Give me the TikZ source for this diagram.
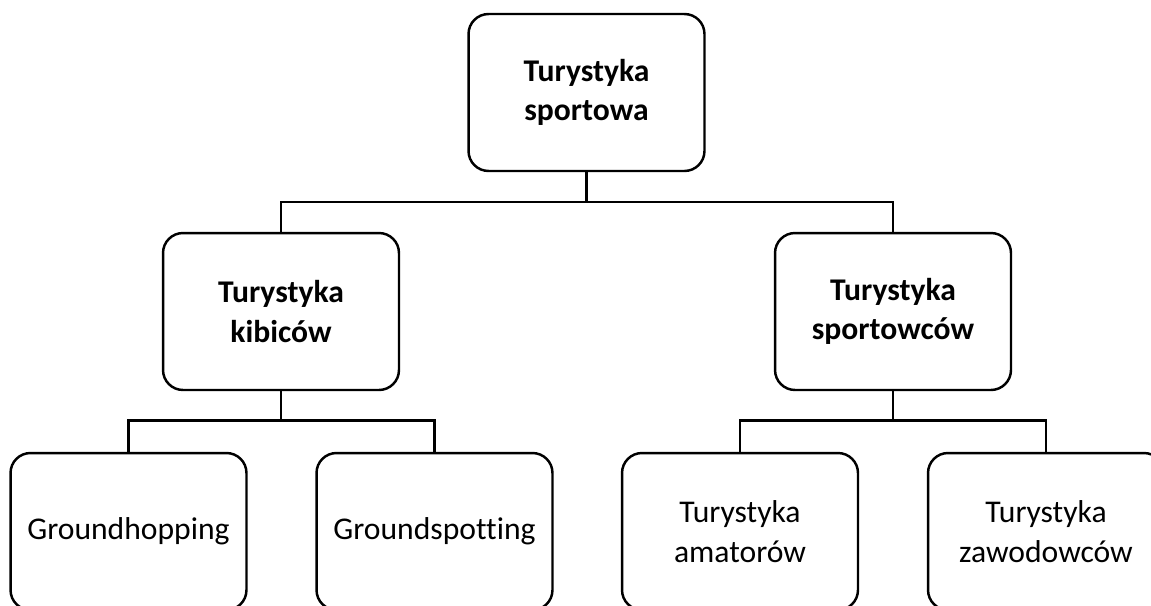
\documentclass[tikz,border=0pt]{standalone}
\usepackage{fontspec}
\setmainfont{Carlito}[Ligatures={NoCommon}]
\usepackage{tikz}
\usetikzlibrary{positioning,calc}

\begin{document}
\begin{tikzpicture}[
      x=0.02cm, y=-0.02cm,
      catbox/.style={rectangle, draw=black, line width=1.4pt, rounded corners=0.4cm,
                     minimum width=4.72cm, minimum height=3.14cm, align=center,
                     inner sep=0pt, font=\fontsize{18}{22.5}\selectfont},
      headbox/.style={catbox, font=\fontsize{18}{22.5}\selectfont\bfseries},
      link/.style={line width=1.4pt}
    ]
      \useasboundingbox (0,0) rectangle (1151,605);
      %% Root
      \node[headbox] (sport) at (586.5, 92.5) {Turystyka\\sportowa};
      %% Second level
      \node[headbox] (kibice)   at (281, 311.5) {Turystyka\\kibiców};
      \node[headbox] (sportowcy) at (893, 311.5) {Turystyka\\sportowców};
      %% Third level
      \node[catbox] (hopping)  at (128.5, 531.5) {Groundhopping};
      \node[catbox] (spotting) at (434.5, 531.5) {Groundspotting};
      \node[catbox] (amatorzy) at (740, 531.5)   {Turystyka\\amatorów};
      \node[catbox] (zawodowcy) at (1046, 531.5) {Turystyka\\zawodowców};
      %% Connectors
      \coordinate (busroot) at (586.5, 202);
      \coordinate (buskib)  at (281, 420.5);
      \coordinate (busspw)  at (893, 420.5);
      \draw[link] (sport.south) -- (busroot);
      \draw[link] (kibice.north) |- (busroot) -| (sportowcy.north);
      \draw[link] (kibice.south) -- (buskib);
      \draw[link] (hopping.north) |- (buskib) -| (spotting.north);
      \draw[link] (sportowcy.south) -- (busspw);
      \draw[link] (amatorzy.north) |- (busspw) -| (zawodowcy.north);
    \end{tikzpicture}
\end{document}
